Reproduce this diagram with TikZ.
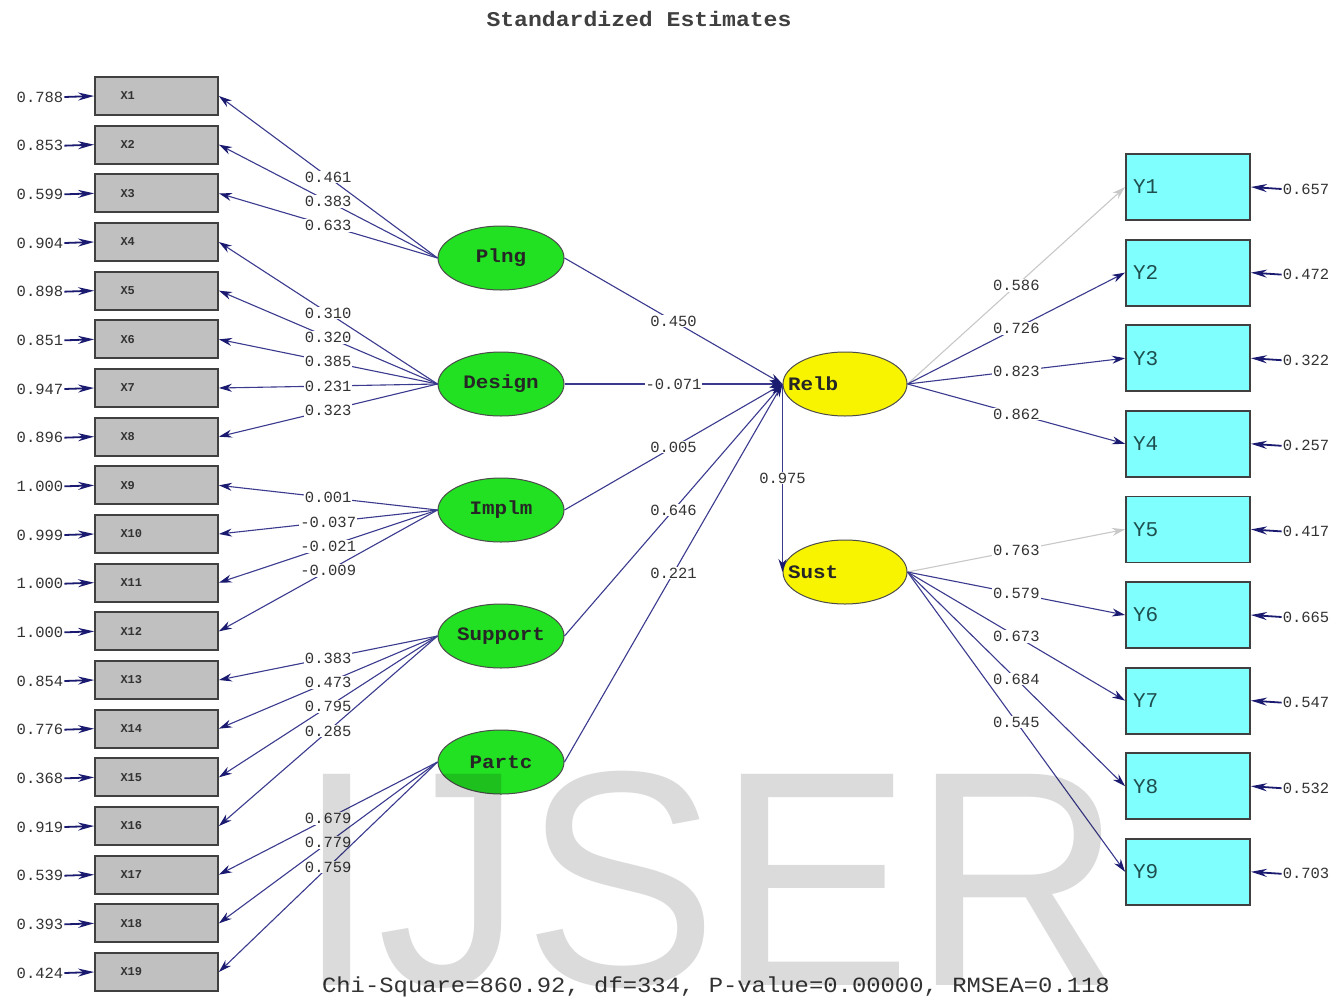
\documentclass[tikz,border=0pt]{standalone}
\usepackage{fontspec}
\setmainfont{Liberation Mono}
\newfontfamily\monof{Liberation Mono}
\newfontfamily\widef[FakeStretch=1.1]{Liberation Mono}
\newfontfamily\wmf{Liberation Sans}
\usetikzlibrary{arrows.meta,shapes.geometric}
\definecolor{pathc}{HTML}{3A3A8E}
\definecolor{headc}{HTML}{1A1A70}
\definecolor{boxg}{HTML}{C0C0C0}
\definecolor{boxc}{HTML}{80FFFF}
\definecolor{latg}{HTML}{22E022}
\definecolor{laty}{HTML}{F8F400}
\definecolor{txtc}{HTML}{333333}
\definecolor{ytxt}{HTML}{1E4E4E}
\definecolor{fixc}{HTML}{C8C8C8}
\tikzset{
  xbox/.style={rectangle, draw=black!75, line width=1.8pt, fill=boxg, minimum width=123pt, minimum height=38pt, inner sep=0pt, font=\monof\bfseries\fontsize{12}{12}\selectfont, text=black!80},
  ybox/.style={rectangle, draw=black!75, line width=1.8pt, fill=boxc, minimum width=124pt, minimum height=66pt, inner sep=0pt, font=\monof\fontsize{21}{21}\selectfont, text=ytxt},
  latn/.style={ellipse, draw=black!70, line width=1pt, minimum width=126pt, minimum height=64pt, inner sep=0pt, font=\widef\bfseries\fontsize{19}{19}\selectfont, text=black!85},
  lbl/.style={fill=white, inner sep=1pt, font=\monof\fontsize{15.5}{15.5}\selectfont, text=txtc},
  errl/.style={inner sep=1pt, font=\monof\fontsize{15.5}{15.5}\selectfont, text=txtc},
  load/.style={draw=pathc, line width=1.1pt, -{Stealth[length=13pt,width=8pt,color=headc]}},
  fixd/.style={draw=fixc, line width=1.1pt, -{Stealth[length=13pt,width=8pt,color=fixc]}},
  erra/.style={draw=headc, line width=1.8pt, -{Stealth[length=16pt,width=8pt,color=headc]}}
}
\begin{document}
\begin{tikzpicture}[x=1pt,y=-1pt]
\useasboundingbox[fill=white] (0,0) rectangle (1341,1001);

% title and fit statistics
\node[font=\widef\bfseries\fontsize{21}{21}\selectfont, text=black!75] (title) at (639,19) {Standardized Estimates};
\node[font=\widef\fontsize{21.7}{21.7}\selectfont, text=black!80] (fit) at (716,987) {Chi-Square=860.92, df=334, P-value=0.00000, RMSEA=0.118};

% X boxes with errors
\foreach \i/\e in {1/0.788,2/0.853,3/0.599,4/0.904,5/0.898,6/0.851,7/0.947,8/0.896,9/1.000,10/0.999,11/1.000,12/1.000,13/0.854,14/0.776,15/0.368,16/0.919,17/0.539,18/0.393,19/0.424}{
  \node[xbox] (x\i) at (156.5,{96+(\i-1)*48.667}) {\makebox[0pt][l]{\hspace*{-36pt}X\i}};
  \node[errl] (ex\i) at (40,{97+(\i-1)*48.667}) {\e};
  \draw[erra] (ex\i.east) -- (x\i.west);
}

% Y boxes with errors
\foreach \i/\e in {1/0.657,2/0.472,3/0.322,4/0.257,5/0.417,6/0.665,7/0.547,8/0.532,9/0.703}{
  \node[ybox] (y\i) at (1188,{187+(\i-1)*85.6}) {\makebox[0pt][l]{\hspace*{-55pt}Y\i}};
  \node[errl] (ey\i) at (1306,{189+(\i-1)*85.6}) {\e};
  \draw[erra] (ey\i.west) -- (y\i.east);
}

% latent variables
\node[latn, fill=latg] (Plng) at (501,258) {\makebox[0pt]{Plng}};
\node[latn, fill=latg] (Design) at (501,384) {\makebox[0pt]{Design}};
\node[latn, fill=latg] (Implm) at (501,510) {\makebox[0pt]{Implm}};
\node[latn, fill=latg] (Support) at (501,636) {\makebox[0pt]{Support}};
\node[latn, fill=latg] (Partc) at (501,762) {\makebox[0pt]{Partc}};
\node[latn, fill=laty, minimum width=124pt] (Relb) at (845,384) {\makebox[0pt][l]{\hspace*{-57pt}Relb}};
\node[latn, fill=laty, minimum width=124pt] (Sust) at (845,572) {\makebox[0pt][l]{\hspace*{-57pt}Sust}};

% loadings
\foreach \l/\b/\v in {Plng/1/0.461,Plng/2/0.383,Plng/3/0.633,
  Design/4/0.310,Design/5/0.320,Design/6/0.385,Design/7/0.231,Design/8/0.323,
  Implm/9/0.001,Implm/10/-0.037,Implm/11/-0.021,Implm/12/-0.009,
  Support/13/0.383,Support/14/0.473,Support/15/0.795,Support/16/0.285,
  Partc/17/0.679,Partc/18/0.779,Partc/19/0.759}{
  \draw[load] (\l.west) -- node[lbl]{\v} (x\b.east);
}

% structural paths
\foreach \l/\v in {Plng/0.450,Design/-0.071,Implm/0.005,Support/0.646,Partc/0.221}{
  \draw[load] (\l.east) -- node[lbl]{\v} (Relb.west);
}
\draw[load] (Relb.west) -- node[lbl]{0.975} (Sust.west);

% endogenous loadings
\draw[fixd] (Relb.east) -- node[lbl]{0.586} (y1.west);
\draw[load] (Relb.east) -- node[lbl]{0.726} (y2.west);
\draw[load] (Relb.east) -- node[lbl]{0.823} (y3.west);
\draw[load] (Relb.east) -- node[lbl]{0.862} (y4.west);
\draw[fixd] (Sust.east) -- node[lbl]{0.763} (y5.west);
\draw[load] (Sust.east) -- node[lbl]{0.579} (y6.west);
\draw[load] (Sust.east) -- node[lbl]{0.673} (y7.west);
\draw[load] (Sust.east) -- node[lbl]{0.684} (y8.west);
\draw[load] (Sust.east) -- node[lbl]{0.545} (y9.west);

% watermark
\node[anchor=base west, inner sep=0pt, text depth=0pt, text height=220pt, text=black, text opacity=0.14, font=\wmf\fontsize{307}{307}\selectfont] (wm) at (296,985) {\scalebox{0.95}[1]{IJSER}};
\end{tikzpicture}
\end{document}
